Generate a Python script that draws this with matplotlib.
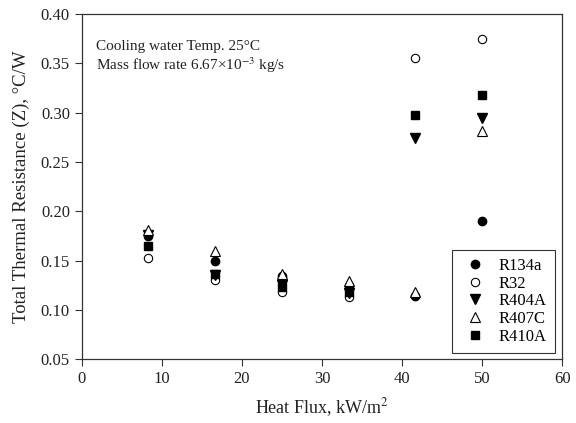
import matplotlib
matplotlib.use("Agg")
import matplotlib.pyplot as plt

plt.rcParams['font.family'] = ['Liberation Serif', 'DejaVu Serif']
plt.rcParams['mathtext.fontset'] = 'stix'

heat_flux = [8.33, 16.67, 25.0, 33.33, 41.67, 50.0]
r134a = [0.175, 0.150, 0.134, 0.124, 0.114, 0.190]
r32 = [0.153, 0.130, 0.118, 0.113, 0.355, 0.375]
r404a = [0.176, 0.135, 0.125, 0.117, 0.274, 0.295]
r407c = [0.181, 0.160, 0.136, 0.129, 0.118, 0.281]
r410a = [0.165, 0.136, 0.123, 0.118, 0.298, 0.318]

xticks = [0, 10, 20, 30, 40, 50, 60]
yticks = [0.05, 0.10, 0.15, 0.20, 0.25, 0.30, 0.35, 0.40]

fig = plt.figure(figsize=(5.76, 4.23), dpi=100)
ax = fig.add_axes([0.142, 0.151, 0.834, 0.816])

ms = 6
ax.plot(heat_flux, r134a, 'o', color='black', ms=ms, label='R134a', linestyle='none')
ax.plot(heat_flux, r32, 'o', mfc='white', mec='black', mew=0.8, ms=ms, label='R32', linestyle='none')
ax.plot(heat_flux, r404a, 'v', color='black', ms=ms+0.5, label='R404A', linestyle='none')
ax.plot(heat_flux, r407c, '^', mfc='white', mec='black', mew=0.8, ms=ms+0.5, label='R407C', linestyle='none')
ax.plot(heat_flux, r410a, 's', color='black', ms=ms-0.5, label='R410A', linestyle='none')

ax.set_xlim(0, 60)
ax.set_ylim(0.05, 0.40)
ax.set_xticks(xticks)
ax.set_yticks(yticks)
ax.set_yticklabels([f"{v:.2f}" for v in yticks])
ax.tick_params(direction='out', labelsize=12, length=5, width=0.8, colors='#333333', labelcolor='#222222')
for s in ax.spines.values():
    s.set_linewidth(0.9)
    s.set_color('#333333')

ax.set_xlabel('Heat Flux, kW/m$^2$', fontsize=13, color='#222222', labelpad=7)
ax.set_ylabel('Total Thermal Resistance (Z), °C/W', fontsize=13.5, color='#222222', labelpad=8)

ax.text(0.03, 0.925, 'Cooling water Temp. 25°C\nMass flow rate 6.67×10$^{-3}$ kg/s',
        transform=ax.transAxes, fontsize=11, va='top', ha='left', color='#222222', linespacing=1.15)

leg = ax.legend(loc='lower right', bbox_to_anchor=(0.985, 0.018), fontsize=12, frameon=True,
                fancybox=False, edgecolor='black', handletextpad=0.5, borderpad=0.5,
                labelspacing=0.1, handlelength=1.8, borderaxespad=0)
leg.get_frame().set_linewidth(0.8)

fig.savefig('out.png', dpi=100)
